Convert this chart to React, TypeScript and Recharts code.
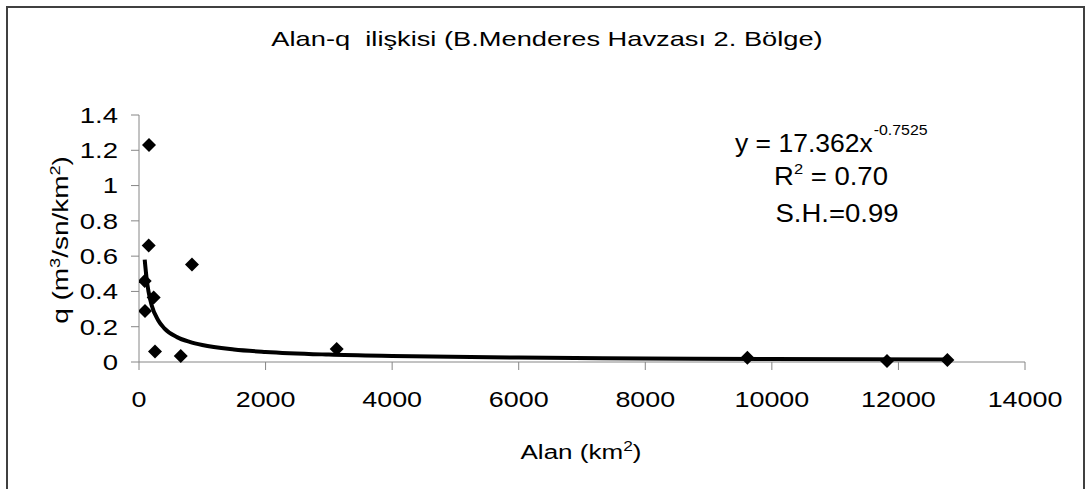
import React from 'react';
import {
  ComposedChart,
  Scatter,
  Line,
  XAxis,
  YAxis,
} from 'recharts';

// observed stations: drainage area (km2) vs specific discharge q
const stationArea = [158, 153, 837, 90, 232, 95, 253, 660, 3124, 9613, 11819, 12773];
const stationQ = [1.23, 0.66, 0.553, 0.459, 0.366, 0.289, 0.06, 0.034, 0.074, 0.024, 0.006, 0.011];

// power trendline
const trendArea = [90, 120, 150, 200, 300, 400, 600, 800, 1000, 1500, 2000, 3000, 4000, 6000, 8000, 10000, 12773];
const trendQ = [0.58, 0.474, 0.4, 0.322, 0.238, 0.191, 0.141, 0.114, 0.096, 0.071, 0.057, 0.042, 0.034, 0.025, 0.02, 0.017, 0.014];

const xTicks = [0, 2000, 4000, 6000, 8000, 10000, 12000, 14000];
const yTicks = [0, 0.2, 0.4, 0.6, 0.8, 1, 1.2, 1.4];

const FONT = '"Liberation Sans", Arial, sans-serif';
const AXIS_COLOR = '#868686';

const points = stationArea.map((x, i) => ({ x, y: stationQ[i] }));
const trend = trendArea.map((x, i) => ({ x, y: trendQ[i] }));

function Diamond(props: { cx?: number; cy?: number }) {
  const { cx = 0, cy = 0 } = props;
  const r = 7;
  return (
    <polygon
      points={`${cx},${cy - r} ${cx + r},${cy} ${cx},${cy + r} ${cx - r},${cy}`}
      fill="#000"
    />
  );
}

// the source text is drawn wider than Liberation Sans, so stretch along the baseline
function StretchText({
  x,
  y,
  sx,
  size,
  anchor = 'middle',
  rotate = 0,
  children,
}: {
  x: number;
  y: number;
  sx: number;
  size: number;
  anchor?: 'start' | 'middle' | 'end';
  rotate?: number;
  children: React.ReactNode;
}) {
  return (
    <text
      transform={`translate(${x},${y}) rotate(${rotate}) scale(${sx},1)`}
      textAnchor={anchor}
      fontSize={size}
      fontFamily={FONT}
      fill="#000"
    >
      {children}
    </text>
  );
}

function XTick(props: { x?: number; y?: number; payload?: { value: number } }) {
  const { x = 0, y = 0, payload } = props;
  return (
    <StretchText x={x} y={y + 15.5} sx={1.25} size={21.5}>
      {payload ? String(payload.value) : ''}
    </StretchText>
  );
}

function YTick(props: { x?: number; y?: number; payload?: { value: number } }) {
  const { x = 0, y = 0, payload } = props;
  const v = payload ? Math.round(payload.value * 10) / 10 : 0;
  return (
    <StretchText x={x} y={y + 7.8} sx={1.25} size={22} anchor="end">
      {String(v)}
    </StretchText>
  );
}

export default function App() {
  return (
    <div
      style={{
        position: 'absolute',
        left: 0,
        top: 0,
        width: 1089,
        height: 489,
        background: '#fff',
        overflow: 'hidden',
      }}
    >
      <div
        style={{
          position: 'absolute',
          left: 6,
          top: 6,
          width: 1079,
          height: 500,
          border: '2px solid #404040',
          boxSizing: 'border-box',
        }}
      />
      <ComposedChart
        width={1089}
        height={489}
        margin={{ top: 115, right: 64, bottom: 97, left: 79 }}
        style={{ position: 'absolute', left: 0, top: 0 }}
      >
        <XAxis
          dataKey="x"
          type="number"
          domain={[0, 14000]}
          ticks={xTicks}
          height={30}
          tickSize={8}
          tickMargin={21}
          stroke={AXIS_COLOR}
          tick={<XTick />}
          allowDataOverflow
        />
        <YAxis
          dataKey="y"
          type="number"
          domain={[0, 1.4]}
          ticks={yTicks}
          width={60}
          tickSize={8}
          tickMargin={13}
          stroke={AXIS_COLOR}
          tick={<YTick />}
        />
        <Line
          data={trend}
          dataKey="y"
          type="monotone"
          stroke="#000"
          strokeWidth={4}
          dot={false}
          activeDot={false}
          isAnimationActive={false}
        />
        <Scatter data={points} dataKey="y" shape={<Diamond />} isAnimationActive={false} />

        <StretchText x={547} y={46} sx={1.33} size={20.5}>
          <tspan style={{ whiteSpace: 'pre' }}>{'Alan-q  ilişkisi (B.Menderes Havzası 2. Bölge)'}</tspan>
        </StretchText>

        <StretchText x={68} y={240} sx={1.3} size={21.5} rotate={-90}>
          q (m<tspan dy={-8} fontSize={14}>3</tspan>
          <tspan dy={8}>/sn/km</tspan>
          <tspan dy={-8} fontSize={14}>2</tspan>
          <tspan dy={8}>)</tspan>
        </StretchText>

        <StretchText x={581} y={459} sx={1.24} size={21}>
          Alan (km<tspan dy={-8} fontSize={14}>2</tspan>
          <tspan dy={8}>)</tspan>
        </StretchText>

        <StretchText x={735} y={152} sx={1.06} size={25} anchor="start">
          y = 17.362x
          <tspan dy={-17} fontSize={15} dx={1}>-0.7525</tspan>
        </StretchText>
        <StretchText x={831} y={185} sx={1.1} size={25}>
          R<tspan dy={-11} fontSize={15}>2</tspan>
          <tspan dy={11}> = 0.70</tspan>
        </StretchText>
        <StretchText x={837} y={222} sx={1.1} size={25}>
          S.H.=0.99
        </StretchText>
      </ComposedChart>
    </div>
  );
}
